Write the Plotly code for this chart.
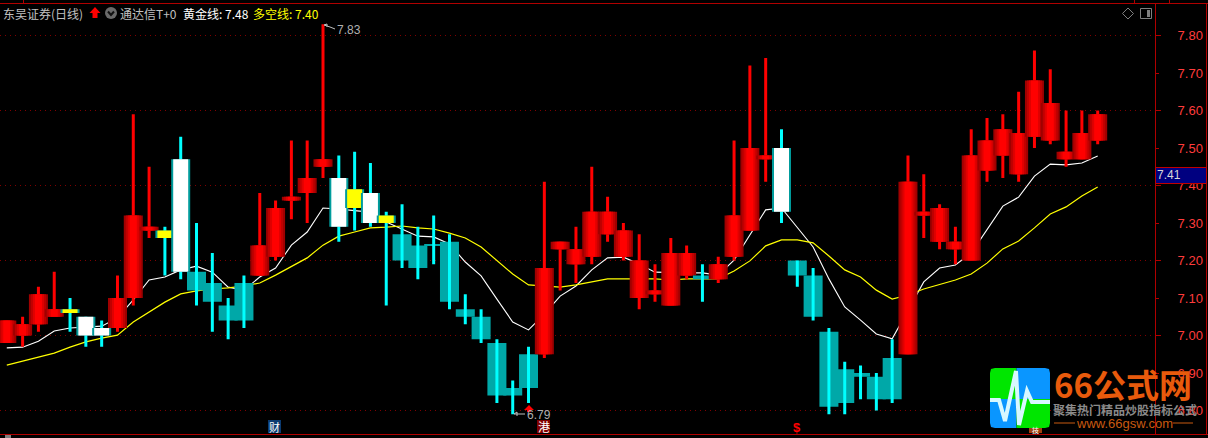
import plotly.graph_objects as go

kinds = list("rrrr" "y" "ww" "rrr" "y" "w" "tttt" "rrrrr" "w" "y" "w" "y" "ttttttttt" "rrrrrrrrrr" "t" "rrrr" "w" "ttttttt" "rrrrrrrrrrrrr")
body_top = [7.04,7.03,7.11,7.07,7.07,7.05,7.02,7.10,7.32,7.29,7.28,7.47,7.17,7.14,7.08,7.14,7.24,7.34,7.37,7.42,
            7.47,7.42,7.39,7.38,7.32,7.27,7.24,7.24,7.25,7.07,7.05,6.98,6.86,6.95,7.18,7.25,7.23,7.33,7.33,7.28,
            7.20,7.12,7.22,7.22,7.16,7.19,7.32,7.50,7.48,7.50,7.20,7.16,7.01,6.91,6.90,6.89,6.94,7.41,7.33,7.34,
            7.25,7.48,7.52,7.55,7.54,7.68,7.62,7.49,7.54,7.59]
body_bottom = [6.98,7.00,7.03,7.05,7.06,7.00,7.00,7.02,7.10,7.28,7.26,7.17,7.12,7.09,7.04,7.04,7.16,7.21,7.36,7.38,
               7.45,7.29,7.34,7.30,7.30,7.20,7.18,7.24,7.09,7.05,6.99,6.84,6.84,6.86,6.95,7.23,7.19,7.21,7.27,7.21,
               7.10,7.11,7.08,7.16,7.15,7.15,7.21,7.28,7.47,7.33,7.16,7.05,6.81,6.82,6.89,6.83,6.83,6.95,7.32,7.25,
               7.23,7.20,7.44,7.48,7.43,7.53,7.52,7.47,7.47,7.52]
highs = [7.04,7.05,7.13,7.17,7.10,7.05,7.04,7.16,7.59,7.45,7.29,7.53,7.30,7.22,7.10,7.16,7.38,7.36,7.52,7.52,
         7.83,7.48,7.49,7.46,7.33,7.35,7.29,7.32,7.27,7.11,7.07,6.99,6.88,6.97,7.41,7.25,7.29,7.45,7.37,7.30,
         7.27,7.19,7.26,7.24,7.19,7.21,7.52,7.72,7.74,7.55,7.20,7.18,7.02,6.93,6.92,6.90,6.99,7.48,7.43,7.35,
         7.29,7.55,7.58,7.59,7.65,7.76,7.71,7.60,7.60,7.60]
lows = [6.98,6.97,7.01,7.05,7.01,6.97,6.97,7.01,7.08,7.26,7.16,7.15,7.08,7.01,6.99,7.02,7.16,7.20,7.31,7.30,
        7.42,7.25,7.28,7.29,7.08,7.18,7.15,7.19,7.07,7.03,6.98,6.82,6.79,6.82,6.94,7.12,7.14,7.19,7.25,7.20,
        7.07,7.09,7.08,7.15,7.09,7.14,7.20,7.28,7.41,7.30,7.13,7.04,6.79,6.79,6.83,6.80,6.82,6.95,7.26,7.23,
        7.19,7.20,7.41,7.42,7.41,7.50,7.51,7.45,7.47,7.51]
gold_line = [6.967,6.969,6.985,7.012,7.020,7.023,7.025,7.047,7.095,7.148,7.156,7.175,7.185,7.169,7.129,7.121,7.156,7.180,7.241,7.276,
             7.340,7.337,7.332,7.329,7.303,7.284,7.265,7.263,7.244,7.196,7.159,7.097,7.036,7.015,7.057,7.105,7.132,7.175,7.207,7.209,
             7.191,7.169,7.167,7.167,7.167,7.161,7.201,7.268,7.335,7.340,7.289,7.236,7.151,7.076,7.041,7.004,6.991,7.065,7.143,7.180,
             7.188,7.220,7.281,7.345,7.369,7.425,7.457,7.455,7.460,7.479]
bull_bear_line = [6.921,6.932,6.943,6.953,6.969,6.983,6.993,7.001,7.036,7.063,7.089,7.111,7.119,7.124,7.127,7.132,7.140,7.161,7.183,7.207,
                  7.241,7.265,7.276,7.287,7.289,7.292,7.287,7.284,7.273,7.260,7.236,7.199,7.164,7.135,7.132,7.129,7.135,7.143,7.151,7.151,
                  7.151,7.151,7.148,7.151,7.151,7.151,7.172,7.199,7.239,7.255,7.255,7.247,7.212,7.175,7.156,7.121,7.097,7.108,7.124,7.135,
                  7.148,7.164,7.193,7.231,7.252,7.287,7.324,7.343,7.372,7.396]
tick_values = [7.8,7.7,7.6,7.5,7.4,7.3,7.2,7.1,7.0,6.9,6.8]
tick_labels = ["7.80","7.70","7.60","7.50","7.40","7.30","7.20","7.10","7.00","6.90","6.80"]
grid_values = [7.8,7.6,7.4,7.2,7.0,6.8]

W, H = 1208, 438
LEFT, RIGHT, TOP, BOTTOM = 0, 1155, 3, 434
CJK = "Noto Sans CJK SC"
AX = "#b00000"

def px(x): return (x - LEFT) / (RIGHT - LEFT)
def py(y): return (BOTTOM - y) / (BOTTOM - TOP)

# category slots: candle i sits at 6.8 + 15.81*i pixels
STEP = 15.81
xr = [(LEFT - 6.8) / STEP, (RIGHT - 6.8) / STEP]
yr = [7.8947 - BOTTOM / 375, 7.8947 - TOP / 375]
U = 1 / STEP

bx, bh, bb, bw, bc = [], [], [], [], []
def add(i, lo, hi, width, color):
    bx.append(i); bb.append(lo); bh.append(max(hi - lo, 0.0027)); bw.append(width * U); bc.append(color)

for i, k in enumerate(kinds):
    t, b, h, l = body_top[i], body_bottom[i], highs[i], lows[i]
    if k == "r":
        add(i, l, h, 3, "#ff0000")
        for w, c in [(19, "#a00000"), (15, "#c00000"), (11, "#e00000"), (7, "#ff0000")]:
            add(i, b, t, w, c)
    elif k == "t":
        add(i, b, t, 19, "#00a8a8")
        add(i, l, h, 3, "#00ffff")
    else:
        add(i, l, h, 3, "#00ffff")
        add(i, b, t, 19, "#009c9c")
        add(i, b, t, 15, "#ffffff" if k == "w" else "#ffff00")

fig = go.Figure()
xs = list(range(len(kinds)))
fig.add_trace(go.Scatter(x=xs, y=gold_line, mode="lines", line=dict(color="#ffffff", width=1.1), yaxis="y", showlegend=False))
fig.add_trace(go.Scatter(x=xs, y=bull_bear_line, mode="lines", line=dict(color="#ffff00", width=1.2), yaxis="y", showlegend=False))
fig.add_trace(go.Bar(x=bx, y=bh, base=bb, width=bw, marker=dict(color=bc, line=dict(width=0)), yaxis="y2", showlegend=False))

shapes = []
def line(x0, y0, x1, y1, color=AX, width=1, dash="solid"):
    shapes.append(dict(type="line", xref="paper", yref="paper", x0=px(x0), y0=py(y0), x1=px(x1), y1=py(y1),
                       line=dict(color=color, width=width, dash=dash)))
def rect(x0, y0, x1, y1, fill, lc=None):
    shapes.append(dict(type="rect", xref="paper", yref="paper", x0=px(x0), y0=py(y0), x1=px(x1), y1=py(y1),
                       fillcolor=fill, line=dict(color=lc or fill, width=1 if lc else 0)))
def path(points, fill=None, color=None, width=0, close=False):
    d = "M " + " L ".join(f"{px(a):.5f},{py(b):.5f}" for a, b in points) + (" Z" if close else "")
    shapes.append(dict(type="path", xref="paper", yref="paper", path=d, fillcolor=fill or "rgba(0,0,0,0)",
                       line=dict(color=color or "rgba(0,0,0,0)", width=width)))

for g in grid_values:
    shapes.append(dict(type="line", xref="paper", yref="y", x0=0, x1=1, y0=g, y1=g, layer="below",
                       line=dict(color="#800000", width=1, dash="1px,4px")))
    shapes.append(dict(type="line", xref="paper", yref="y", x0=1, x1=px(1161), y0=g, y1=g, line=dict(color=AX, width=1)))

# frame
line(0, 3.5, W, 3.5); line(0, 434.5, W, 434.5)
line(1155.5, 3, 1155.5, 434); line(1206.5, 3, 1206.5, 434)
line(23.5, 0, 23.5, 3); line(1134.5, 0, 1134.5, 3); line(1169.5, 0, 1169.5, 3)
rect(5, 435, 11, 438, "#808080")

# price box
rect(1155.5, 167.5, 1206.5, 183.5, "#000080", "#c00000")

# header icons
path([(95, 7), (100.5, 13), (97.5, 13), (97.5, 18), (92.5, 18), (92.5, 13), (89.5, 13)], fill="#ff0000", close=True)
shapes.append(dict(type="circle", xref="paper", yref="paper", x0=px(105), x1=px(117), y0=py(19), y1=py(7), fillcolor="#6a6a6a", line=dict(width=0)))
path([(108, 11.5), (111, 15), (114, 11.5)], color="#101010", width=2)
path([(1128, 8), (1133.5, 13.5), (1128, 19), (1122.5, 13.5)], color="#808080", width=1, close=True)
rect(1140.5, 8.5, 1151.5, 18.5, "#000000", "#808080")
rect(1147, 10, 1150, 17, "#808080")

# low/high markers
path([(324, 25), (327, 24), (327, 27)], color="#c0c0c0", width=1)
path([(324, 25), (330, 27), (335, 29)], color="#c0c0c0", width=1)
path([(514, 414), (525, 414)], color="#c0c0c0", width=1)
path([(514, 414), (517, 412), (517, 416)], color="#c0c0c0", width=1)
path([(529, 405), (534, 410), (531, 410), (531, 412), (527, 412), (527, 410), (524, 410)], fill="#ff0000", close=True)

# event tags
rect(268, 420, 281, 433, "#0a3a70")
rect(537, 420, 550, 433, "#800000")
rect(1029, 427, 1042, 433, "#a04010")

# logo
QX, QY = 1016.5, 399
L0, L1, T0, T1, R = 990, 1050, 368, 428, 5
path([(L0 + R, T0), (QX, T0), (QX, QY), (L0, QY), (L0, T0 + R), (L0 + 1, T0 + 1)], fill="#00e600", close=True)
path([(QX, T0), (L1 - R, T0), (L1 - 1, T0 + 1), (L1, T0 + R), (L1, QY), (QX, QY)], fill="#0a96ff", close=True)
path([(L0, QY), (QX, QY), (QX, T1), (L0 + R, T1), (L0 + 1, T1 - 1), (L0, T1 - R)], fill="#0a96ff", close=True)
path([(QX, QY), (L1, QY), (L1, T1 - R), (L1 - 1, T1 - 1), (L1 - R, T1), (QX, T1)], fill="#00e600", close=True)
path([(990, 400), (999, 400), (1005, 421), (1016, 371), (1019, 425), (1027, 391), (1032, 402), (1050, 402)], color="#d8f8ff", width=4)
path([(1054, 423), (1075, 423)], color="#c85a10", width=1)
path([(1173, 423), (1193, 423)], color="#c85a10", width=1)

anns = []
def text(x, y, s, color, size=12, font=CJK, anchor="left"):
    anns.append(dict(xref="paper", yref="paper", x=px(x), y=py(y), text=s, showarrow=False, xanchor=anchor, yanchor="middle",
                     font=dict(family=font, size=size, color=color), xshift=0, yshift=0, borderpad=0, borderwidth=0))

text(3, 13, "东吴证券(日线)", "#c0c0c0")
text(120, 13, "通达信T+0", "#c0c0c0")
text(183, 13, "黄金线: 7.48", "#ffffff")
text(253, 13, "多空线: 7.40", "#ffff00")
text(337, 30, "7.83", "#b0b0b0", 12, "Liberation Sans")
text(527, 415, "6.79", "#b0b0b0", 12, "Liberation Sans")
text(1157, 175, "7.41", "#d8d8d8", 12, "Liberation Sans")
text(274.5, 426.5, "财", "#ffffff", 11, CJK, "center")
text(543.5, 426.5, "港", "#ffffff", 12, CJK, "center")
text(797, 427, "<b>$</b>", "#ff0000", 13, "Liberation Sans", "center")
text(1035.5, 430, "技", "#ffffff", 7, CJK, "center")
text(1054, 384, "<b>66公式网</b>", "#e85a0c", 33)
text(1053, 409, "<b>聚集热门精品炒股指标公式</b>", "#8a8a8a", 12)
text(1124, 423, "www.66gsw.com", "#c85a10", 13, "Liberation Sans", "center")

fig.update_layout(
    width=W, height=H, margin=dict(l=LEFT, r=W - RIGHT, t=TOP, b=H - BOTTOM, pad=0),
    paper_bgcolor="#000000", plot_bgcolor="#000000", barmode="overlay", hovermode=False,
    showlegend=False, shapes=shapes, annotations=anns,
    xaxis=dict(range=xr, visible=False, fixedrange=True),
    yaxis=dict(range=yr, side="right", tickvals=tick_values, ticktext=tick_labels, ticks="outside", ticklen=3,
               tickcolor=AX, tickwidth=1, showgrid=False, zeroline=False, showline=False, fixedrange=True,
               ticklabelstandoff=16, tickfont=dict(family="Liberation Sans", size=13, color="#ff3c3c")),
    yaxis2=dict(range=yr, overlaying="y", side="right", visible=False, fixedrange=True),
)
fig.write_html("out.html", config=dict(displayModeBar=False),
               post_script="document.body.style.margin='0';document.body.style.background='#000';document.body.style.overflow='hidden';")
